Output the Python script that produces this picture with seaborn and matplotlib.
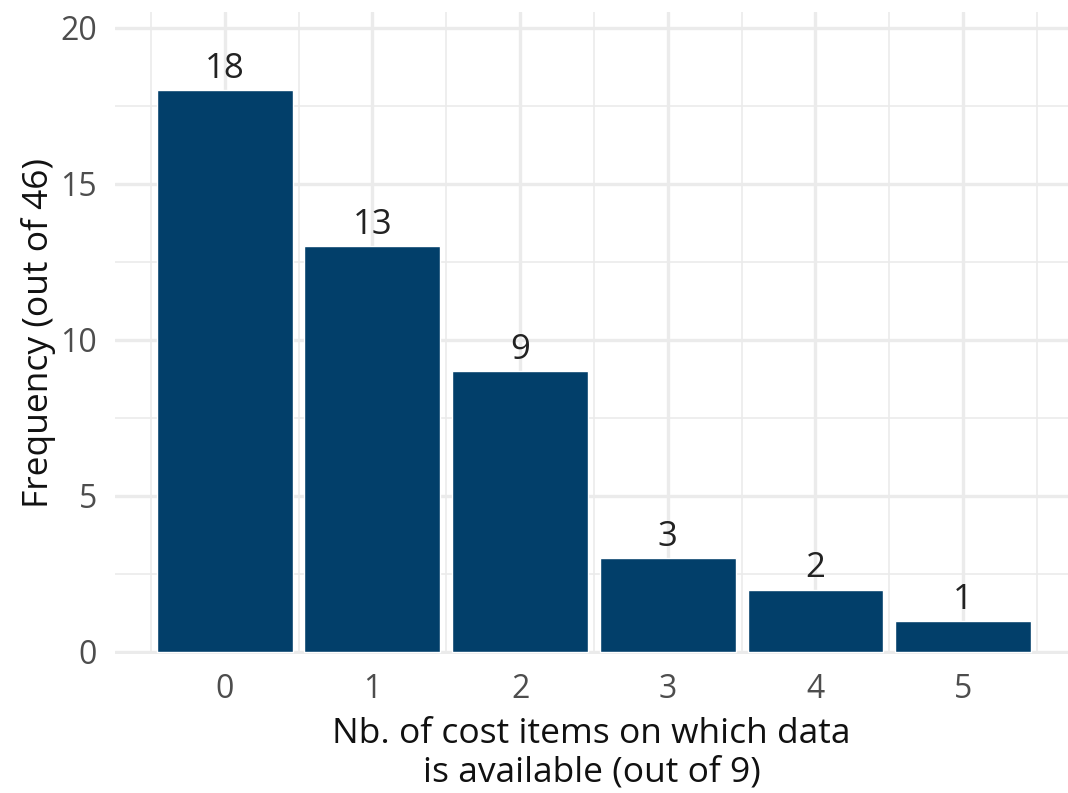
import matplotlib
matplotlib.use("Agg")
import matplotlib.pyplot as plt
from matplotlib.ticker import MultipleLocator
import seaborn as sns
import pandas as pd

categories = ["0", "1", "2", "3", "4", "5"]
frequency = [18, 13, 9, 3, 2, 1]
y_ticks = [0, 5, 10, 15, 20]

sns.set_theme(style="white")
plt.rcParams["font.family"] = ["Open Sans", "DejaVu Sans"]

df = pd.DataFrame({"items": categories, "freq": frequency})

fig = plt.figure(figsize=(10.68, 7.93), dpi=100)
ax = fig.add_axes([115/1068, 1 - 653.5/793, 1 - 115/1068, (653.5 - 12)/793])

sns.barplot(data=df, x="items", y="freq", color="#023F6A", saturation=1,
            width=0.92, ax=ax, zorder=3)

ax.set_xlim(-0.743, 5.71)
ax.set_ylim(-0.05, 20.5)
ax.set_yticks(y_ticks)
ax.set_xticks(range(len(categories)), categories)
ax.yaxis.set_minor_locator(MultipleLocator(2.5))
ax.xaxis.set_minor_locator(MultipleLocator(0.5))
ax.grid(which="major", color="#EBEBEB", linewidth=2.4, zorder=0)
ax.grid(which="minor", color="#EBEBEB", linewidth=1.2, zorder=0)
ax.set_axisbelow(True)
for s in ax.spines.values():
    s.set_visible(False)
ax.tick_params(axis="both", which="both", length=0, labelsize=23, labelcolor="#4D4D4D")
ax.tick_params(axis="y", pad=13)
ax.tick_params(axis="x", pad=14)

for c in ax.containers:
    ax.bar_label(c, labels=[str(v) for v in frequency], padding=3,
                 fontsize=25, color="#222222")

ax.set_xlabel("Nb. of cost items on which data\nis available (out of 9)",
              fontsize=25.5, color="#111111", labelpad=8, linespacing=1.18)
ax.set_ylabel("Frequency (out of 46)", fontsize=25.5, color="#111111", labelpad=3)

fig.savefig("out.png", dpi=100)
